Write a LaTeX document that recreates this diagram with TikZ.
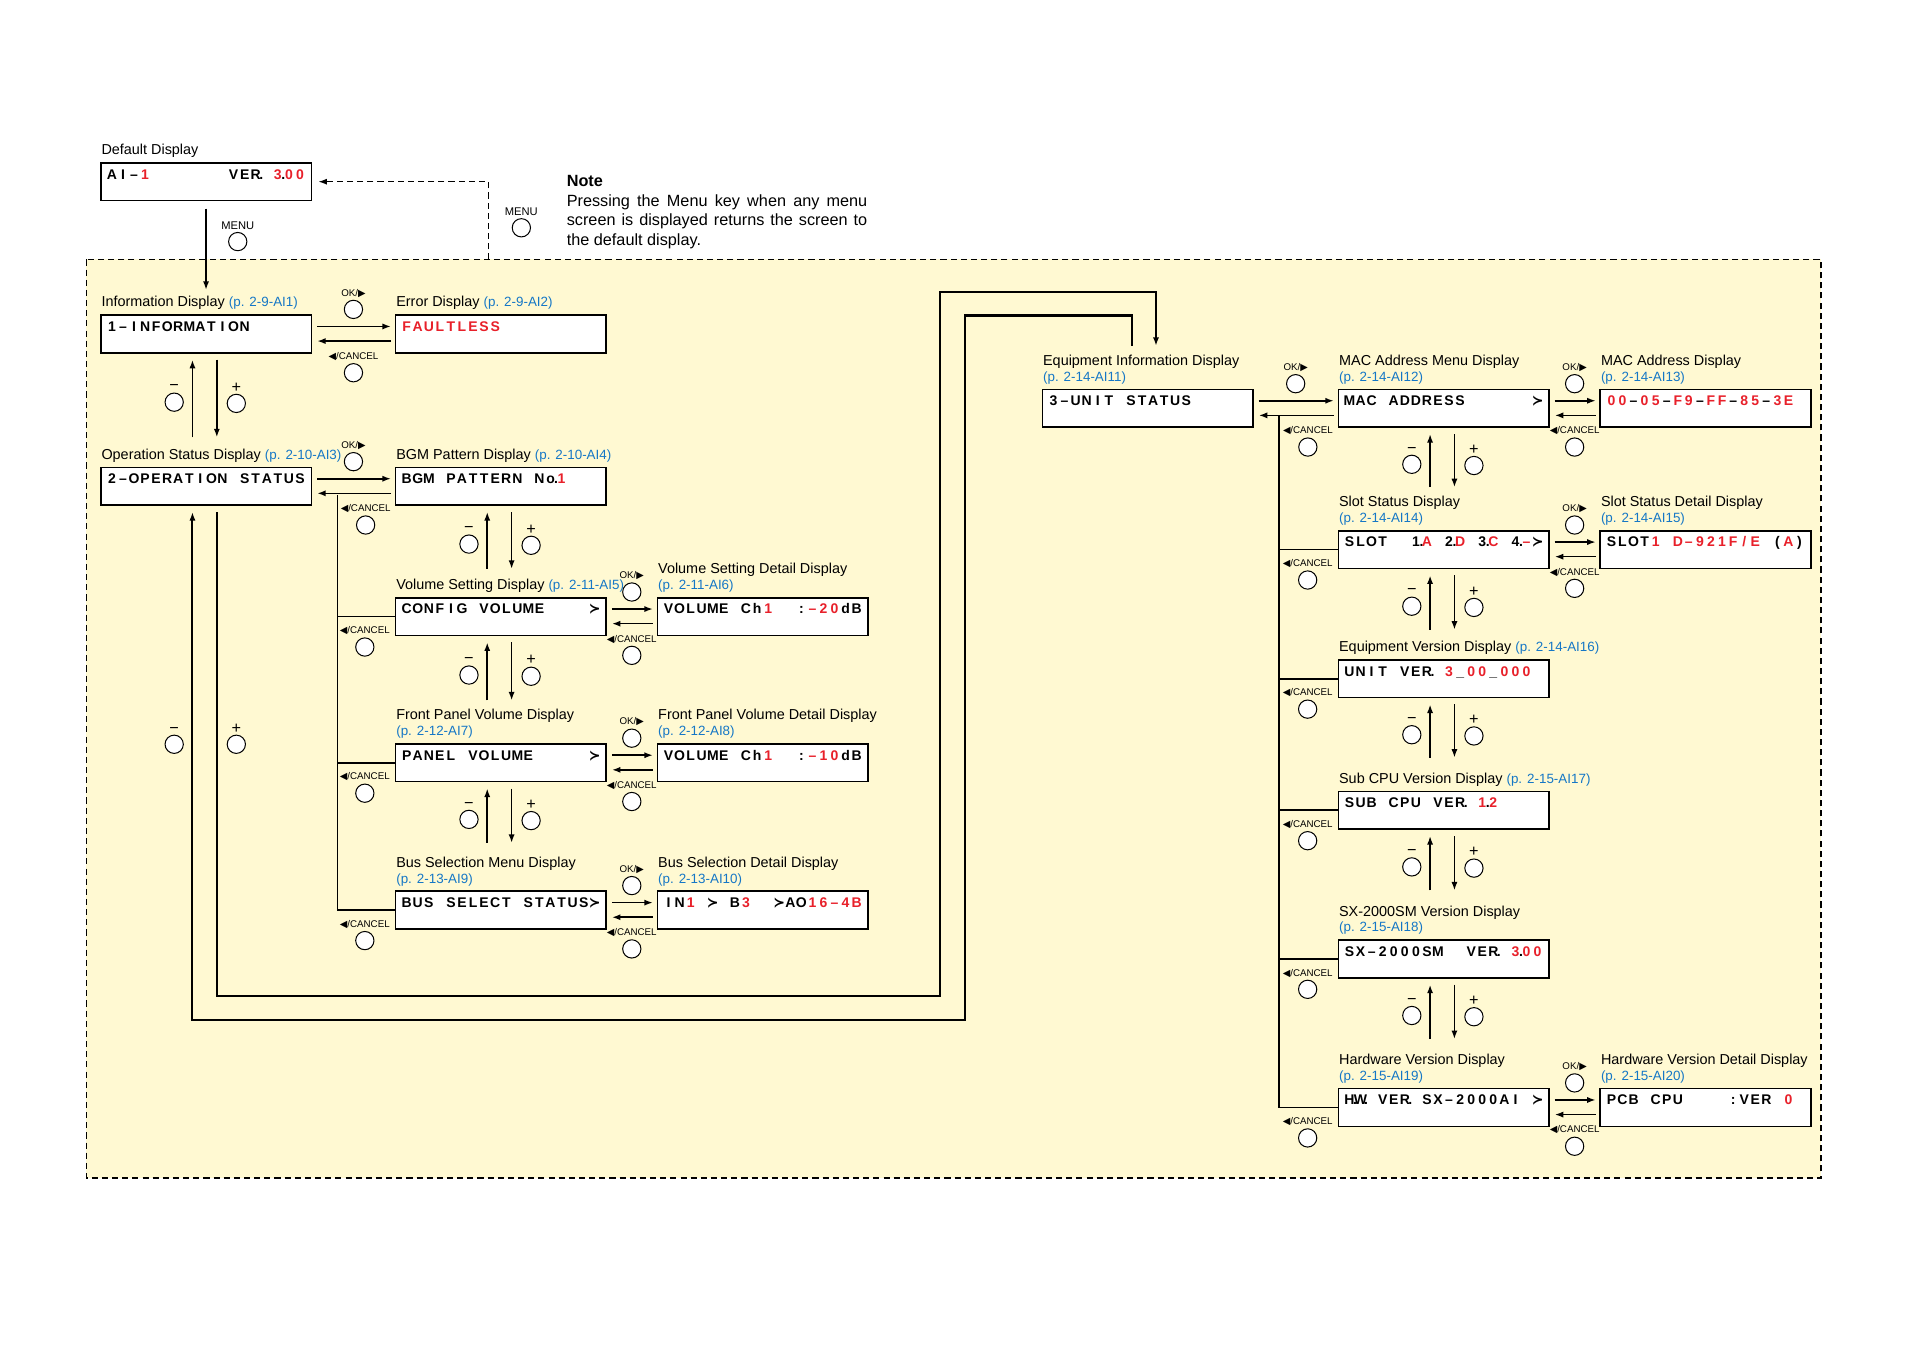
\documentclass[tikz,border=0pt]{standalone}
\usepackage{fontspec}
\setmainfont{Liberation Sans}
\newfontfamily\symfont{DejaVu Sans}
\usepackage{tikz}
\usetikzlibrary{arrows.meta,positioning,calc}

\definecolor{lcdred}{HTML}{E8202A}
\definecolor{pgblue}{HTML}{1577C6}
\definecolor{zonefill}{HTML}{FFF9D2}

% LCD text: one cell per character, * = empty cell, | = red on/off
\newdimen\cellw \cellw=5.45pt
\newif\iflcdred
\newcommand\lcddot{.}
\newcommand\lcdarr{{\symfont ≻}}
\def\lcdcell#1{%
  \ifx#1*\hbox to\cellw{}%
  \else\ifx#1|\iflcdred\lcdredfalse\else\lcdredtrue\fi
  \else\ifx#1\lcddot\hbox to 0pt{\hss.\hss}%
  \else\hbox to\cellw{\hss\iflcdred\color{lcdred}\fi#1\hss}%
  \fi\fi\fi}
\def\lcdloop#1{\ifx#1\relax\else\lcdcell#1\expandafter\lcdloop\fi}
\newcommand\lcd[1]{\lcdredfalse\lcdloop#1\relax}
\newcommand\pg[1]{{\fontsize{6.6}{7.8}\selectfont\textcolor{pgblue}{(p. #1)}}}

% screen box with its title and its text
\newcommand\screen[5]{%
  \node[scr] (#1) at (#2,#3) {};
  \node[lcdtxt] (#1t) at ($(#1.north west)+(5,14)$) {\lcd{#5}};
  \node[dlabel, above right=2pt and 0.6pt of #1.north west] (#1L) {#4};}
% OK / CANCEL between two screens
\newcommand\hpair[3]{%
  \draw[arr] ($(#1.north east)+(4,10)$) -- ($(#2.north west)+(-3,10)$);
  \draw[arr] ($(#2.north west)+(-3,22)$) -- ($(#1.north east)+(4,22)$);
  \coordinate (#1g) at ($(#1.north east)!.5!(#2.north west)$);
  \node[btn] (#1ok) at ($(#1g)+(0,-4)$) {};
  \node[keylab, above=1pt of #1ok] (#1okL) {OK/{\symfont ▶}};
  \node[btn] (#1cn) at ($(#1g)+(#3,48)$) {};
  \node[keylab, above=1pt of #1cn] (#1cnL) {{\symfont ◀}/CANCEL};}
% - / + between a screen and the next one
\newcommand\vpair[3]{%
  \coordinate (#1vt) at ($(#1.south west)+(0,5)$);
  \coordinate (#1vb) at ($(#2.north west)+(0,-#3)$);
  \draw[arr] ($(#1vb)+(76,0)$) -- ($(#1vt)+(76,0)$);
  \draw[arr] ($(#1vt)+(96,0)$) -- ($(#1vb)+(96,0)$);
  \coordinate (#1vm) at ($(#1vt)!.5!(#1vb)$);
  \node[btn] (#1mi) at ($(#1vm)+(61,3)$) {};
  \node[sgn, above=0.6pt of #1mi] (#1miL) {−};
  \node[btn] (#1pl) at ($(#1vm)+(112,4)$) {};
  \node[sgn, above=0.6pt of #1pl] (#1plL) {+};}
% CANCEL key on the return line
\newcommand\backkey[1]{%
  \node[btn] (#1bk) at ($(#1.west)+(-24.5,25)$) {};
  \node[keylab, above=1pt of #1bk] (#1bkL) {{\symfont ◀}/CANCEL};}

\begin{document}
\begin{tikzpicture}[x=0.6pt, y=-0.6pt,
  scr/.style={draw, line width=0.8pt, fill=white, anchor=north west,
    minimum width=103.8pt, minimum height=18.6pt, inner sep=0pt},
  lcdtxt/.style={anchor=base west, inner sep=0pt, font=\fontsize{6.9}{7}\selectfont\bfseries},
  dlabel/.style={inner sep=0pt, align=left, font=\fontsize{7.1}{7.8}\selectfont},
  btn/.style={circle, draw, fill=white, line width=0.5pt, minimum size=9pt, inner sep=0pt},
  keylab/.style={inner sep=0pt, font=\fontsize{4.8}{5}\selectfont},
  menulab/.style={inner sep=0pt, font=\fontsize{5.5}{6}\selectfont},
  sgn/.style={inner sep=0pt, font=\fontsize{8}{8}\selectfont},
  arr/.style={-{Latex[length=4.2pt,width=3pt]}, line width=0.8pt},
  wire/.style={line width=1pt},
  branch/.style={line width=0.9pt},
  zone/.style={fill=zonefill, line width=0.7pt, dash pattern=on 3pt off 2pt}]
\useasboundingbox (0,0) rectangle (1568,1108);
% menu zone
\draw[zone] (71,213) rectangle (1495,967);
\coordinate (zoneret) at (401,213);

% default display and note
\screen{def}{82}{133}{Default Display}{AI–|1|*******VER\lcddot*|3|\lcddot|00|}
\node[btn] (menuA) at ($(def.south)+(26,33)$) {};
\node[menulab, above=1pt of menuA] (menuAL) {MENU};
\node[btn] (menuB) at (428,187) {};
\node[menulab, above=1pt of menuB] (menuBL) {MENU};
\draw[-{Latex[length=4.2pt,width=3pt]}, line width=0.7pt, dash pattern=on 3pt off 2pt]
  (zoneret) |- ($(def.east)+(5,0)$);
\node[anchor=north west, inner sep=0pt, align=left, font=\fontsize{8}{9.6}\selectfont] (note) at (465,144)
  {\textbf{Note}\\
   \makebox[148pt][s]{Pressing the Menu key when any menu}\\
   \makebox[148pt][s]{screen is displayed returns the screen to}\\
   the default display.};

% screens
\screen{info}{82}{258}{Information Display \pg{2-9-AI1}}{1–INFORMATION}
\screen{err}{324}{258}{Error Display \pg{2-9-AI2}}{|FAULTLESS|}
\screen{op}{82}{383}{Operation Status Display \pg{2-10-AI3}}{2–OPERATION*STATUS}
\screen{bgm}{324}{383}{BGM Pattern Display \pg{2-10-AI4}}{BGM*PATTERN*No\lcddot|1|}
\screen{vol}{324}{490}{Volume Setting Display \pg{2-11-AI5}}{CONFIG*VOLUME****\lcdarr}
\screen{vold}{539}{490}{Volume Setting Detail Display\\\pg{2-11-AI6}}{VOLUME*Ch|1|**:|–20|dB}
\screen{pan}{324}{610}{Front Panel Volume Display\\\pg{2-12-AI7}}{PANEL*VOLUME*****\lcdarr}
\screen{pand}{539}{610}{Front Panel Volume Detail Display\\\pg{2-12-AI8}}{VOLUME*Ch|1|**:|–10|dB}
\screen{bus}{324}{731}{Bus Selection Menu Display\\\pg{2-13-AI9}}{BUS*SELECT*STATUS\lcdarr}
\screen{busd}{539}{731}{Bus Selection Detail Display\\\pg{2-13-AI10}}{IN|1|*\lcdarr*B|3|**\lcdarr AO|16–4B|}
\screen{unit}{855}{319}{Equipment Information Display\\\pg{2-14-AI11}}{3–UNIT*STATUS}
\screen{mac}{1098}{319}{MAC Address Menu Display\\\pg{2-14-AI12}}{MAC*ADDRESS******\lcdarr}
\screen{macd}{1313}{319}{MAC Address Display\\\pg{2-14-AI13}}{|00|–|05|–|F9|–|FF|–|85|–|3E|}
\screen{slot}{1098}{435}{Slot Status Display\\\pg{2-14-AI14}}{SLOT**1\lcddot|A|*2\lcddot|D|*3\lcddot|C|*4\lcddot|–|\lcdarr}
\screen{slotd}{1313}{435}{Slot Status Detail Display\\\pg{2-14-AI15}}{SLOT|1|*|D–921F/E|*(|A|)}
\screen{ever}{1098}{541}{Equipment Version Display \pg{2-14-AI16}}{UNIT*VER\lcddot*|3|\_|00|\_|000|}
\screen{sub}{1098}{649}{Sub CPU Version Display \pg{2-15-AI17}}{SUB*CPU*VER\lcddot*|1|\lcddot|2|}
\screen{sx}{1098}{771}{SX-2000SM Version Display\\\pg{2-15-AI18}}{SX–2000SM**VER\lcddot*|3|\lcddot|00|}
\screen{hw}{1098}{893}{Hardware Version Display\\\pg{2-15-AI19}}{H\lcddot W\lcddot*VER\lcddot*SX–2000AI*\lcdarr}
\screen{hwd}{1313}{893}{Hardware Version Detail Display\\\pg{2-15-AI20}}{PCB*CPU****:VER*|0|}

% MENU into the zone
\draw[arr] ($(def.south)+(0,6)$) -- ($(info.north)+(0,-20)$);

% OK / CANCEL pairs
\hpair{info}{err}{0}
\hpair{op}{bgm}{10}
\hpair{vol}{vold}{0}
\hpair{pan}{pand}{0}
\hpair{bus}{busd}{0}
\hpair{unit}{mac}{10}
\hpair{mac}{macd}{0}
\hpair{slot}{slotd}{0}
\hpair{hw}{hwd}{0}

% - / + pairs
\vpair{info}{op}{24}
\vpair{bgm}{vol}{23}
\vpair{vol}{pan}{35}
\vpair{pan}{bus}{39}
\vpair{mac}{slot}{35}
\vpair{slot}{ever}{24}
\vpair{ever}{sub}{27}
\vpair{sub}{sx}{40}
\vpair{sx}{hw}{40}

% return lines
\coordinate (lbus) at (277,406);
\foreach \s in {vol,pan,bus} { \draw[branch] (\s.west) -| (lbus); \backkey{\s} }
\coordinate (rbus) at (1050,341);
\foreach \s in {slot,ever,sub,sx,hw} { \draw[branch] (\s.west) -| (rbus); \backkey{\s} }

% operation status <-> equipment information
\coordinate (opdn) at ($(op.south west)+(96,5)$);
\coordinate (opup) at ($(op.south west)+(76,5)$);
\coordinate (undn) at ($(unit.north west)+(94,-35)$);
\coordinate (unup) at ($(unit.north west)+(74,-35)$);
\draw[arr, wire] (opdn) |- (772,818) -- (772,240) -| (undn);
\draw[arr, wire] (unup) -- ++(0,-25) -| (792,837) -| (opup);
\node[btn] (opmi) at (143,611) {};
\node[sgn, above=0.6pt of opmi] (opmiL) {−};
\node[btn] (oppl) at (194,611) {};
\node[sgn, above=0.6pt of oppl] (opplL) {+};
\end{tikzpicture}
\end{document}
